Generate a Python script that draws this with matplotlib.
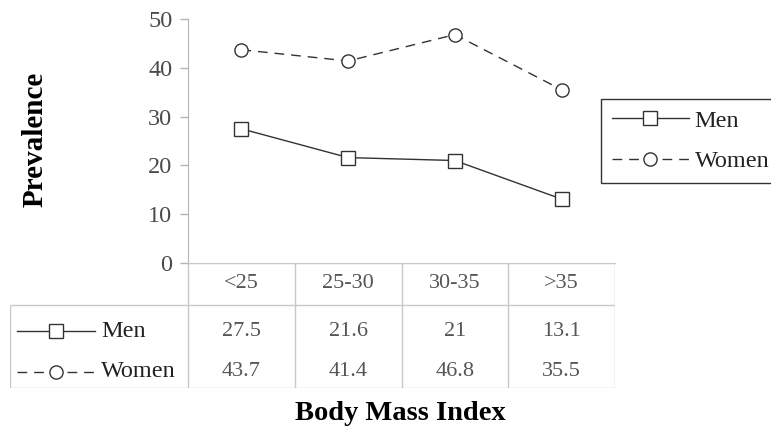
import matplotlib.pyplot as plt
from matplotlib.lines import Line2D

plt.rcParams['font.family'] = ['Liberation Serif', 'DejaVu Serif']

categories = ['<25', '25-30', '30-35', '>35']
men = [27.5, 21.6, 21, 13.1]
women = [43.7, 41.4, 46.8, 35.5]
series_names = ['Men', 'Women']
yticks = [0, 10, 20, 30, 40, 50]

W, H = 771, 437
fig = plt.figure(figsize=(W / 100, H / 100), dpi=100)

line_col = '#333333'
grid_col = '#c8c8c8'
num_col = '#555555'

# pixel layout helpers
def box(x0, y0, x1, y1):
    return [x0 / W, 1 - y1 / H, (x1 - x0) / W, (y1 - y0) / H]

ax = fig.add_axes(box(188, 19, 615, 263))
xs = list(range(len(categories)))
styles = {
    'Men': dict(linestyle='-', marker='s'),
    'Women': dict(linestyle=(0, (7, 5)), marker='o'),
}
common = dict(color=line_col, lw=1.0, markersize=9.5, markerfacecolor='white',
              markeredgecolor=line_col, markeredgewidth=1.0)
ax.plot(xs, men, **styles['Men'], **common)
ax.plot(xs, women, **styles['Women'], **common)

ax.set_xlim(-0.5, len(categories) - 0.5)
ax.set_ylim(0, 50)
ax.set_yticks(yticks)
ax.set_xticks([])
for s in ['top', 'right']:
    ax.spines[s].set_visible(False)
ax.spines['left'].set_color('#b5b5b5')
ax.spines['bottom'].set_color(grid_col)
ax.tick_params(axis='y', length=5.8, width=1, color='#b5b5b5', pad=5.5,
               labelsize=17.5, labelcolor='#4a4a4a')
ax.patch.set_alpha(0)

# data table under the plot
tx = fig.add_axes(box(10, 263, 615, 388))
unit = (615 - 188) / len(categories)
left = -0.5 - (188 - 10) / unit
right = len(categories) - 0.5
tx.set_xlim(left, right)
tx.set_ylim(0, 3)
tx.axis('off')

tx.hlines([3], -0.5, right, color=grid_col, lw=1)
tx.hlines([2, 0], left, right, color=grid_col, lw=1)
tx.vlines([left], 0, 2, color=grid_col, lw=1)
tx.vlines([c - 0.5 for c in range(len(categories) + 1)], 0, 3, color=grid_col, lw=1)

for i, c in enumerate(categories):
    tx.text(i, 2.5, c, ha='center', va='center', fontsize=16, color=num_col)
    tx.text(i, 1.36, f'{men[i]:g}', ha='center', va='center', fontsize=16, color=num_col)
    tx.text(i, 0.39, f'{women[i]:g}', ha='center', va='center', fontsize=16, color=num_col)

g0 = left + 7 / unit
g1 = left + 85 / unit
gm = (g0 + g1) / 2
for name, yrow in zip(series_names, [1.36, 0.39]):
    glyph = Line2D([g0, gm, g1], [yrow] * 3, markevery=[1], **styles[name], **common)
    tx.add_line(glyph)
    tx.text(g1 + 6 / unit, yrow, name, ha='left', va='center', fontsize=17.5, color='#222222')

# legend on the right
handles = [Line2D([], [], **styles[n], **common) for n in series_names]
leg = fig.legend(handles, series_names, loc='upper left',
                 bbox_to_anchor=(601 / W, 1 - 99 / H), frameon=True, fancybox=False,
                 fontsize=17.5, handlelength=3.15, handletextpad=0.25, labelspacing=0.75,
                 borderpad=0.45, borderaxespad=0, numpoints=1)
leg.get_frame().set_edgecolor('black')
leg.get_frame().set_linewidth(1.0)
for t in leg.get_texts():
    t.set_color('#222222')

fig.text(35 / W, 1 - 139 / H, 'Prevalence', rotation=90, ha='center', va='center',
         fontsize=21, fontweight='bold')
fig.text(400 / W, 1 - 414 / H, 'Body Mass Index', ha='center', va='center',
         fontsize=20.5, fontweight='bold')

fig.savefig('out.png', dpi=100)
